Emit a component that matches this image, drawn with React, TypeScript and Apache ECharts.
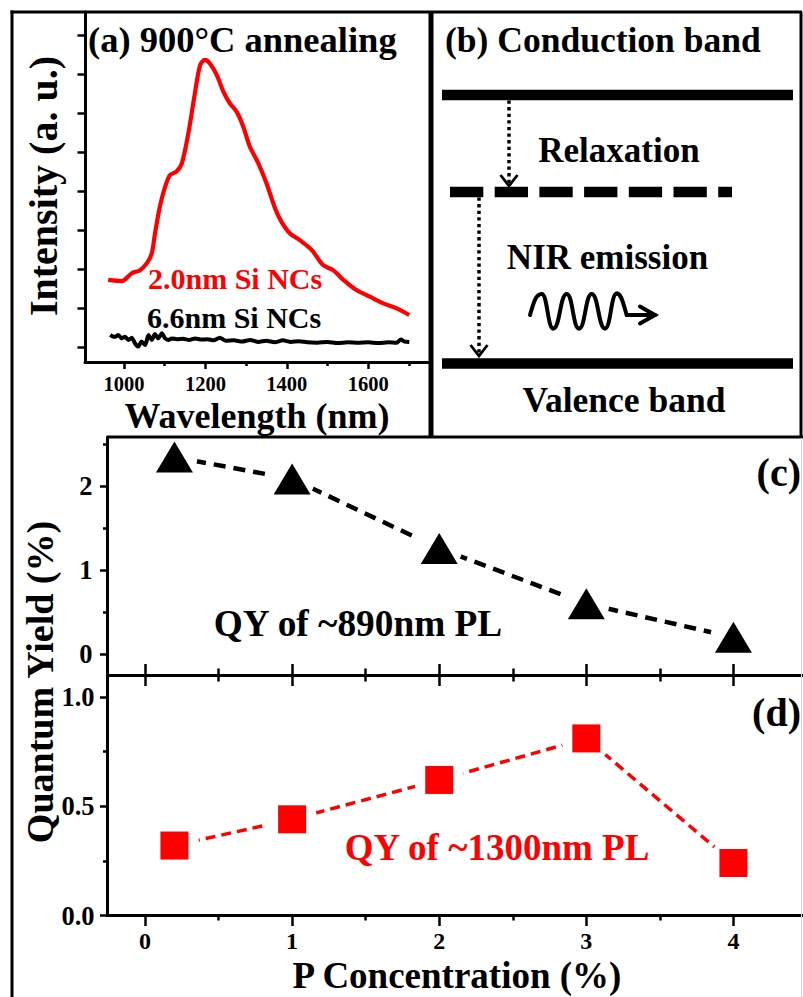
import React, { useEffect, useRef } from "react";
import * as echarts from "echarts";

// ---------- Data ----------
// (a) PL spectra (intensity in tick units, a.u.)
const redWavelength = [961, 994, 1019, 1039, 1056, 1068, 1076, 1088, 1101, 1113, 1129, 1142, 1158, 1174, 1187, 1199, 1211, 1228, 1244, 1260, 1277, 1293, 1309, 1330, 1350, 1371, 1387, 1408, 1432, 1461, 1489, 1514, 1539, 1571, 1604, 1637, 1670, 1701];
const redIntensity = [1.72, 1.69, 1.89, 1.97, 2.15, 2.40, 2.91, 3.60, 4.11, 4.41, 4.50, 4.71, 5.48, 6.50, 7.23, 7.36, 7.27, 6.97, 6.55, 6.25, 6.03, 5.65, 5.14, 4.71, 4.20, 3.56, 3.21, 2.91, 2.74, 2.49, 2.10, 1.97, 1.72, 1.46, 1.29, 1.12, 0.99, 0.82];
const blackWavelength = [966, 972, 978, 986, 994, 1002, 1011, 1019, 1027, 1035, 1043, 1052, 1060, 1068, 1076, 1084, 1093, 1101, 1109, 1117, 1130, 1145, 1160, 1175, 1190, 1205, 1220, 1235, 1250, 1270, 1290, 1310, 1330, 1350, 1370, 1390, 1410, 1430, 1450, 1475, 1500, 1525, 1550, 1575, 1600, 1625, 1650, 1670, 1680, 1690, 1701];
const blackIntensity = [0.31, 0.27, 0.26, 0.31, 0.22, 0.26, 0.18, 0.24, 0.09, 0.01, 0.14, 0.05, 0.31, 0.18, 0.33, 0.22, 0.35, 0.22, 0.18, 0.22, 0.20, 0.21, 0.18, 0.22, 0.19, 0.20, 0.17, 0.24, 0.16, 0.17, 0.14, 0.18, 0.13, 0.16, 0.12, 0.17, 0.13, 0.15, 0.12, 0.11, 0.13, 0.10, 0.12, 0.11, 0.12, 0.10, 0.12, 0.11, 0.19, 0.14, 0.13];
const wavelengthTicks = [1000, 1200, 1400, 1600];
const wavelengthMinorTicks = [1100, 1300, 1500, 1700];
const intensityTicks = [0, 1, 2, 3, 4, 5, 6, 7, 8];

// (c), (d) quantum yields
const pConcentration = [0.2, 1, 2, 3, 4];
const qy890 = [2.35, 2.09, 1.26, 0.6, 0.2];
const qy1300 = [0.32, 0.44, 0.62, 0.81, 0.24];
const pTicks = [0, 1, 2, 3, 4];
const pMinorTicks = [0.5, 1.5, 2.5, 3.5];
const qyCTicks = [0, 1, 2];
const qyCMinorTicks = [0.5, 1.5, 2.5];
const qyDTicks = [0, 0.5, 1.0];
const qyDMinorTicks = [0.25, 0.75];

const FONT = "'Liberation Serif', 'Times New Roman', serif";
const BLACK = "#000000";
const RED = "#ff0000";

const zip = (xs: number[], ys: number[]) => xs.map((x, i) => [x, ys[i]]);

function axis(gridIndex: number, min: number, max: number, o: any) {
  return {
    type: "value",
    gridIndex,
    min,
    max,
    position: o.position,
    axisLine: { show: !!o.line, onZero: false, lineStyle: { color: BLACK, width: 3 } },
    axisTick: {
      show: true,
      inside: !!o.inside,
      length: o.tickLen,
      customValues: o.ticks,
      lineStyle: { color: BLACK, width: 2.5 },
    },
    axisLabel: o.labels
      ? {
          show: true,
          customValues: o.labels,
          color: BLACK,
          fontFamily: FONT,
          fontWeight: "bold",
          fontSize: o.labelSize,
          margin: o.margin,
          lineHeight: o.labelSize,
          formatter: o.formatter || ((v: number) => String(v)),
        }
      : { show: false },
    splitLine: { show: false },
    minorTick: { show: false },
  };
}

function txt(text: string, x: number, y: number, size: number, o: any = {}) {
  const align = o.align || "center";
  return {
    type: "text",
    x,
    y,
    rotation: o.rotation || 0,
    z: 50,
    silent: true,
    style: {
      text,
      fill: o.color || BLACK,
      fontSize: size,
      fontWeight: "bold",
      fontFamily: FONT,
      align,
      verticalAlign: "middle",
      textAlign: align,
      textVerticalAlign: "middle",
    },
  };
}

function ln(x1: number, y1: number, x2: number, y2: number, w: number, o: any = {}) {
  return {
    type: "line",
    z: o.z || 100,
    silent: true,
    shape: { x1, y1, x2, y2 },
    style: { stroke: o.color || BLACK, lineWidth: w, lineDash: o.dash, lineCap: o.cap || "butt" },
  };
}

function wave() {
  const pts = [
    [530, 315], [541.7, 294], [553.3, 328.5], [566.7, 294], [579, 328.5],
    [591.7, 294], [605, 328.5], [616.7, 293.5], [626.7, 315],
  ];
  const els: any[] = [];
  for (let i = 0; i < pts.length - 1; i++) {
    const [x0, y0] = pts[i];
    const [x1, y1] = pts[i + 1];
    const dx = x1 - x0;
    const first = i === 0;
    const last = i === pts.length - 2;
    const cp1 = first ? [x0 + dx * 0.3, y0 - (y0 - y1) * 0.6] : [x0 + dx * 0.5, y0];
    const cp2 = last ? [x1 - dx * 0.35, y1 - (y1 - y0) * 0.5] : [x1 - dx * 0.5, y1];
    els.push({
      type: "bezierCurve",
      z: 60,
      silent: true,
      shape: { x1: x0, y1: y0, cpx1: cp1[0], cpy1: cp1[1], cpx2: cp2[0], cpy2: cp2[1], x2: x1, y2: y1 },
      style: { stroke: BLACK, lineWidth: 4, fill: "none", lineCap: "round" },
    });
  }
  els.push(ln(626.7, 315, 655, 315, 4, { cap: "round", z: 60 }));
  els.push({
    type: "polyline",
    z: 60,
    silent: true,
    shape: { points: [[640, 306.5], [655, 315], [640, 323.5]] },
    style: { stroke: BLACK, lineWidth: 4, fill: "none", lineCap: "round", lineJoin: "miter" },
  });
  return els;
}

function arrowHead(x: number, tipY: number) {
  return {
    type: "polyline",
    z: 60,
    silent: true,
    shape: { points: [[x - 8.5, tipY - 11], [x, tipY], [x + 8.5, tipY - 11]] },
    style: { stroke: BLACK, lineWidth: 2.8, fill: "none" },
  };
}

export default function App() {
  const ref = useRef<HTMLDivElement>(null);

  useEffect(() => {
    if (!ref.current) return;
    const chart = echarts.init(ref.current, undefined, { renderer: "svg" });

    const option: any = {
      animation: false,
      backgroundColor: "#ffffff",
      grid: [
        { left: 85, top: 12, width: 343, height: 350, containLabel: false },
        { left: 107.5, top: 437, width: 695.5, height: 238, containLabel: false },
        { left: 107.5, top: 675, width: 695.5, height: 240.5, containLabel: false },
      ],
      xAxis: [
        axis(0, 904, 1747, { position: "bottom", line: true, tickLen: 7, ticks: wavelengthTicks, labels: wavelengthTicks, labelSize: 20.5, margin: 12 }),
        axis(0, 904, 1747, { position: "bottom", tickLen: 4, ticks: wavelengthMinorTicks }),
        axis(1, -0.255, 4.473, { position: "bottom", line: true, inside: true, tickLen: 11, ticks: pTicks }),
        axis(1, -0.255, 4.473, { position: "bottom", inside: true, tickLen: 6.5, ticks: pMinorTicks }),
        axis(2, -0.255, 4.473, { position: "top", inside: true, tickLen: 11, ticks: pTicks }),
        axis(2, -0.255, 4.473, { position: "top", inside: true, tickLen: 6.5, ticks: pMinorTicks }),
        axis(2, -0.255, 4.473, { position: "bottom", line: true, tickLen: 10.5, ticks: pTicks, labels: pTicks, labelSize: 24, margin: 13 }),
        axis(2, -0.255, 4.473, { position: "bottom", tickLen: 5, ticks: pMinorTicks }),
      ],
      yAxis: [
        axis(0, -0.385, 8.59, { position: "left", line: true, tickLen: 7.5, ticks: intensityTicks }),
        axis(1, -0.25, 2.59, { position: "left", line: true, tickLen: 7.5, ticks: qyCTicks, labels: qyCTicks, labelSize: 26.5, margin: 15 }),
        axis(1, -0.25, 2.59, { position: "left", tickLen: 4.5, ticks: qyCMinorTicks }),
        axis(2, 0, 1.1, { position: "left", line: true, tickLen: 7.5, ticks: qyDTicks, labels: qyDTicks, labelSize: 26.5, margin: 13, formatter: (v: number) => v.toFixed(1) }),
        axis(2, 0, 1.1, { position: "left", tickLen: 4.5, ticks: qyDMinorTicks }),
      ],
      series: [
        {
          type: "line",
          xAxisIndex: 0,
          yAxisIndex: 0,
          data: zip(redWavelength, redIntensity),
          symbol: "none",
          smooth: 0.3,
          lineStyle: { color: RED, width: 4.2 },
          z: 3,
        },
        {
          type: "line",
          xAxisIndex: 0,
          yAxisIndex: 0,
          data: zip(blackWavelength, blackIntensity),
          symbol: "none",
          smooth: 0.2,
          lineStyle: { color: BLACK, width: 4 },
          z: 3,
        },
        {
          type: "line",
          xAxisIndex: 2,
          yAxisIndex: 1,
          data: zip(pConcentration, qy890),
          symbol: "none",
          lineStyle: { color: BLACK, width: 4.5, type: [12, 8] },
          z: 2,
        },
        {
          type: "scatter",
          xAxisIndex: 2,
          yAxisIndex: 1,
          data: zip(pConcentration, qy890),
          symbol: "circle",
          symbolSize: 46,
          itemStyle: { color: "#ffffff", opacity: 1 },
          silent: true,
          z: 3,
        },
        {
          type: "scatter",
          xAxisIndex: 2,
          yAxisIndex: 1,
          data: zip(pConcentration, qy890),
          symbol: "triangle",
          symbolSize: [37, 31],
          itemStyle: { color: BLACK, opacity: 1 },
          z: 4,
        },
        {
          type: "line",
          xAxisIndex: 6,
          yAxisIndex: 3,
          data: zip(pConcentration, qy1300),
          symbol: "none",
          lineStyle: { color: RED, width: 3.5, type: [10, 6] },
          z: 2,
        },
        {
          type: "scatter",
          xAxisIndex: 6,
          yAxisIndex: 3,
          data: zip(pConcentration, qy1300),
          symbol: "circle",
          symbolSize: 50,
          itemStyle: { color: "#ffffff", opacity: 1 },
          silent: true,
          z: 3,
        },
        {
          type: "scatter",
          xAxisIndex: 6,
          yAxisIndex: 3,
          data: zip(pConcentration, qy1300),
          symbol: "rect",
          symbolSize: [28, 28],
          itemStyle: { color: RED, opacity: 1 },
          z: 4,
        },
      ],
      graphic: {
        elements: [
          // frame
          ln(12, 10.5, 12, 997, 3),
          ln(10.5, 12, 802, 12, 3),
          ln(431, 12, 431, 437, 5),
          ln(801, 12, 801, 438, 3),
          ln(107.5, 437, 803, 437, 3),
          ln(801.5, 438, 801.5, 997, 1, { color: "#d6d6d6" }),
          // (b) band diagram
          ln(442, 95, 793, 95, 10.5, { z: 60 }),
          ln(450, 192, 732, 192, 10.5, { z: 60, dash: [33.3, 11.4] }),
          ln(442, 363.5, 793, 363.5, 10.5, { z: 60 }),
          ln(509, 100.5, 509, 185, 3.5, { z: 60, dash: [3.3, 3.3] }),
          arrowHead(509, 186),
          ln(479, 197.5, 479, 355, 3.5, { z: 60, dash: [3.3, 3.3] }),
          arrowHead(479, 356),
          ...wave(),
          // texts
          txt("(a) 900°C annealing", 88, 39, 36.5, { align: "left" }),
          txt("Intensity (a. u.)", 43, 186, 40, { rotation: Math.PI / 2 }),
          txt("Wavelength (nm)", 257, 416, 36),
          txt("2.0nm Si NCs", 148, 278, 30, { align: "left", color: RED }),
          txt("6.6nm Si NCs", 147, 317, 30, { align: "left" }),
          txt("(b) Conduction band", 445, 40, 35.5, { align: "left" }),
          txt("Relaxation", 619, 150, 35),
          txt("NIR emission", 607.5, 257, 35),
          txt("Valence band", 624, 400, 35.5),
          txt("QY of ~890nm PL", 358, 623, 37.3),
          txt("QY of ~1300nm PL", 497, 847, 37, { color: RED }),
          txt("(c)", 801, 472, 40, { align: "right" }),
          txt("(d)", 801, 712, 40, { align: "right" }),
          txt("Quantum Yield (%)", 40, 682, 38, { rotation: Math.PI / 2 }),
          txt("P Concentration (%)", 457, 975, 37),
        ],
      },
    };

    chart.setOption(option);
    return () => chart.dispose();
  }, []);

  return (
    <div
      ref={ref}
      style={{ position: "absolute", left: 0, top: 0, width: 803, height: 997 }}
    />
  );
}
